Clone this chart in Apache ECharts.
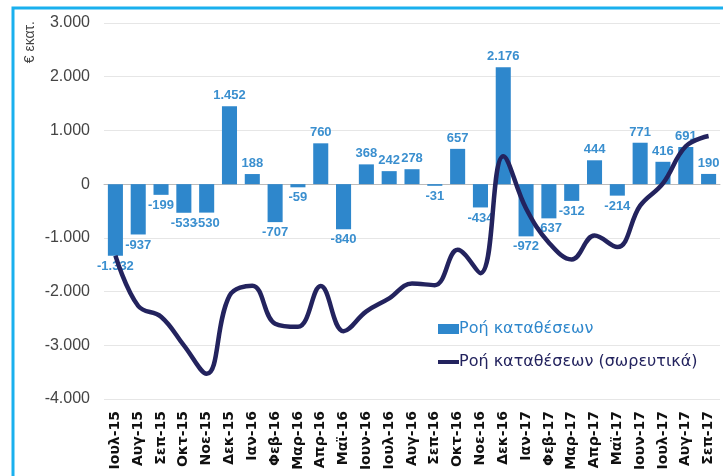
<!DOCTYPE html>
<html>
<head>
<meta charset="utf-8">
<script src="https://cdn.jsdelivr.net/npm/echarts@6/dist/echarts.min.js"></script>
<style>
  html, body { margin: 0; padding: 0; background: #fff; }
  #chart { width: 723px; height: 476px; }
</style>
</head>
<body>
<div id="chart"></div>
<script>
// μήνες
var months = ["Ιουλ-15", "Αυγ-15", "Σεπ-15", "Οκτ-15", "Νοε-15", "Δεκ-15", "Ιαν-16", "Φεβ-16", "Μαρ-16",
  "Απρ-16", "Μαϊ-16", "Ιουν-16", "Ιουλ-16", "Αυγ-16", "Σεπ-16", "Οκτ-16", "Νοε-16", "Δεκ-16",
  "Ιαν-17", "Φεβ-17", "Μαρ-17", "Απρ-17", "Μαϊ-17", "Ιουν-17", "Ιουλ-17", "Αυγ-17", "Σεπ-17"];
// ροή καταθέσεων (μηνιαία)
var flow = [-1332, -937, -199, -533, -530, 1452, 188, -707, -59, 760, -840, 368, 242, 278, -31, 657, -434, 2176,
  -972, -637, -312, 444, -214, 771, 416, 691, 190];
// σωρευτικά
var cumFlow = [-1332, -2269, -2468, -3001, -3531, -2079, -1891, -2598, -2657, -1897, -2737, -2369, -2127, -1849,
  -1880, -1223, -1657, 519, -453, -1090, -1402, -958, -1172, -401, 15, 706, 896];
var yTicks = [-4000, 3000, 1000]; // min, max, step

var BAR = "#2e87cc", LINE = "#23235e";

function fmt(v) {
  var s = String(Math.abs(v)).replace(/\B(?=(\d{3})+(?!\d))/g, ".");
  return (v < 0 ? "-" : "") + s;
}

var chart = echarts.init(document.getElementById("chart"));
var option = {
  animation: false,
  textStyle: { fontFamily: "Liberation Sans, Arial, sans-serif" },
  graphic: [
    {
      type: "polyline",
      shape: { points: [[13, 476], [13, 8], [723, 8]] },
      style: { stroke: "#1ab0ee", lineWidth: 3, fill: null }
    },
    {
      type: "text",
      left: 23,
      top: 21,
      rotation: Math.PI / 2,
      style: { text: "€ εκατ.", fill: "#444", font: "14px Liberation Sans, Arial, sans-serif" }
    }
  ],
  grid: { left: 104, right: 3, top: 23, bottom: 77 },
  legend: [
    {
      left: 433,
      top: 316,
      itemWidth: 21,
      itemHeight: 10,
      icon: "rect",
      textStyle: { fontSize: 16, fontFamily: "DejaVu Sans, sans-serif", color: BAR, padding: [0, 0, 0, -5] },
      data: ["Ροή καταθέσεων"]
    },
    {
      left: 433,
      top: 349,
      itemWidth: 21,
      itemHeight: 4,
      icon: "rect",
      textStyle: { fontSize: 16, fontFamily: "DejaVu Sans, sans-serif", color: LINE, padding: [0, 0, 0, -5] },
      data: ["Ροή καταθέσεων (σωρευτικά)"]
    }
  ],
  xAxis: {
    type: "category",
    data: months,
    axisLine: { lineStyle: { color: "#bbb" } },
    axisTick: { show: false },
    axisLabel: {
      rotate: 90,
      interval: 0,
      margin: 12,
      color: "#111",
      fontSize: 14,
      fontWeight: "bold",
      fontFamily: "DejaVu Sans, sans-serif"
    }
  },
  yAxis: {
    type: "value",
    min: yTicks[0],
    max: yTicks[1],
    interval: yTicks[2],
    axisLine: { show: false },
    axisTick: { show: false },
    axisLabel: { color: "#444", fontSize: 16, margin: 14, formatter: fmt },
    splitLine: { lineStyle: { color: "#e6e6e6" } }
  },
  series: [
    {
      name: "Ροή καταθέσεων",
      type: "bar",
      data: flow.map(function (v) {
        // ετικέτα κάτω από τις αρνητικές μπάρες
        return v < 0 ? { value: v, label: { position: "bottom" } } : v;
      }),
      barCategoryGap: "34%",
      itemStyle: { color: BAR },
      label: {
        show: true,
        position: "top",
        color: "#3a8fcf",
        fontSize: 13,
        fontWeight: "bold",
        distance: 4,
        formatter: function (p) { return fmt(p.value); }
      },
      z: 2
    },
    {
      name: "Ροή καταθέσεων (σωρευτικά)",
      type: "line",
      data: cumFlow,
      smooth: 0.4,
      showSymbol: false,
      lineStyle: { color: LINE, width: 4.5 },
      itemStyle: { color: LINE },
      z: 3
    }
  ]
};
chart.setOption(option);
</script>
</body>
</html>
